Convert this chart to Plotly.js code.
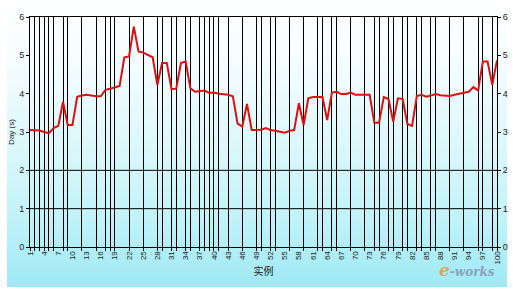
<!DOCTYPE html>
<html><head><meta charset="utf-8">
<script src="https://cdn.plot.ly/plotly-3.0.1.min.js"></script>
<style>
html,body{margin:0;padding:0;background:#fff;}
#wrap{position:relative;width:513px;height:291px;overflow:hidden;}
#bg{position:absolute;left:7px;top:0;width:500px;height:287px;
 background:linear-gradient(to bottom,#ffffff 0%,#f2fcfe 25%,#dcf8fb 50%,#c2f3f9 75%,#9fe9f4 100%);}
#chart{position:absolute;left:0;top:0;width:513px;height:291px;}
</style></head>
<body><div id="wrap"><div id="bg"></div><div id="chart"></div></div>
<script>
const categories = [1,2,3,4,5,6,7,8,9,10,11,12,13,14,15,16,17,18,19,20,
 21,22,23,24,25,26,27,28,29,30,31,32,33,34,35,36,37,38,39,40,
 41,42,43,44,45,46,47,48,49,50,51,52,53,54,55,56,57,58,59,60,
 61,62,63,64,65,66,67,68,69,70,71,72,73,74,75,76,77,78,79,80,
 81,82,83,84,85,86,87,88,89,90,91,92,93,94,95,96,97,98,99,100];
const delays = [3.05,3.05,3.04,3.00,2.97,3.10,3.16,3.79,3.18,3.18,
 3.92,3.95,3.97,3.95,3.93,3.93,4.10,4.13,4.17,4.20,
 4.95,4.97,5.75,5.10,5.07,5.02,4.95,4.23,4.80,4.80,
 4.12,4.13,4.80,4.84,4.14,4.05,4.07,4.08,4.02,4.03,
 4.00,3.99,3.97,3.93,3.22,3.14,3.73,3.05,3.05,3.06,
 3.10,3.05,3.03,3.00,2.98,3.03,3.05,3.75,3.18,3.88,
 3.91,3.91,3.91,3.31,4.03,4.05,3.99,3.99,4.03,3.97,
 3.97,3.96,3.97,3.24,3.24,3.91,3.86,3.27,3.88,3.86,
 3.21,3.16,3.94,3.97,3.92,3.95,3.99,3.96,3.95,3.94,
 3.97,3.99,4.01,4.05,4.17,4.08,4.84,4.84,4.23,4.87];
const tickVals = [1,4,7,10,13,16,19,22,25,28,31,34,37,40,43,46,49,52,55,58,61,64,67,70,73,76,79,82,85,88,91,94,97,100];
const tickText = ['1','4','7','10','13','16','19','22','25','28','31','34','37','40','43','46','49','52','55','58','61','64','67','70','73','76','79','82','85','88','91','94','97','100'];
const gridCats = [1,2,3,4,5,6,8,9,12,15,17,18,19,22,25,28,29,31,32,34,35,37,38,39,40,41,43,46,49,50,52,53,56,59,62,63,65,66,69,72,74,75,77,78,80,81,83,84,86,87,90,93,96,97,99,100];
const yTicks = [0,1,2,3,4,5,6];
const yGrid = [1,2];

const fnt = {family:'Liberation Sans, Arial, sans-serif', size:9, color:'#222'};

const traces = [
 {x:[1,100], y:[0,0], xaxis:'x2', yaxis:'y2', mode:'lines', line:{width:0,color:'rgba(0,0,0,0)'}, hoverinfo:'skip', showlegend:false},
 {x:categories, y:delays, mode:'lines', line:{color:'#dd1010', width:2}, hoverinfo:'skip', showlegend:false}
];

const shapes = yGrid.map(v => ({type:'line', xref:'paper', yref:'y', x0:0, x1:1, y0:v, y1:v, line:{color:'#000', width:1}, layer:'below'}));

const layout = {
 width:513, height:291,
 margin:{l:30, r:16, t:17, b:44, pad:0},
 paper_bgcolor:'rgba(0,0,0,0)', plot_bgcolor:'rgba(0,0,0,0)',
 showlegend:false,
 font:fnt,
 xaxis:{range:[1,100], tickmode:'array', tickvals:tickVals, ticktext:tickText, tickangle:-90,
   ticks:'', showgrid:false, zeroline:false, showline:true, linecolor:'#000', linewidth:1, mirror:true,
   tickfont:{family:'Liberation Sans, Arial, sans-serif', size:8, color:'#222'},
   title:{text:'实例', font:{family:'Noto Sans CJK SC, sans-serif', size:10, color:'#222'}, standoff:4}},
 xaxis2:{range:[1,100], overlaying:'x', side:'bottom', tickmode:'array', tickvals:gridCats,
   showticklabels:false, ticks:'outside', ticklen:3, tickcolor:'#000', tickwidth:1,
   showgrid:true, gridcolor:'#000', gridwidth:1, zeroline:false, showline:false},
 yaxis:{range:[0,6], tickmode:'array', tickvals:yTicks, ticks:'outside', ticklen:3, tickcolor:'#000',
   showgrid:false, zeroline:false, showline:true, linecolor:'#000', linewidth:1,
   tickfont:fnt,
   title:{text:'Day (s)', font:{family:'Liberation Sans, Arial, sans-serif', size:8, color:'#222'}, standoff:3}},
 yaxis2:{range:[0,6], overlaying:'y', side:'right', tickmode:'array', tickvals:yTicks, ticks:'outside', ticklen:3,
   tickcolor:'#000', showgrid:false, zeroline:false, showline:true, linecolor:'#000', linewidth:1, tickfont:fnt},
 shapes:shapes,
 annotations:[
  {xref:'paper', yref:'paper', x:1.0, y:-0.1, xanchor:'right', yanchor:'middle', showarrow:false,
   text:'<b><i><span style="color:#e59a3a;font-size:17px">e</span><span style="color:#8793b5">-works</span></i></b>',
   font:{family:'DejaVu Serif, serif', size:12, color:'#8793b5'}, opacity:0.85}
 ]
};

Plotly.newPlot('chart', traces, layout, {staticPlot:true, displayModeBar:false});
</script>
</body></html>
